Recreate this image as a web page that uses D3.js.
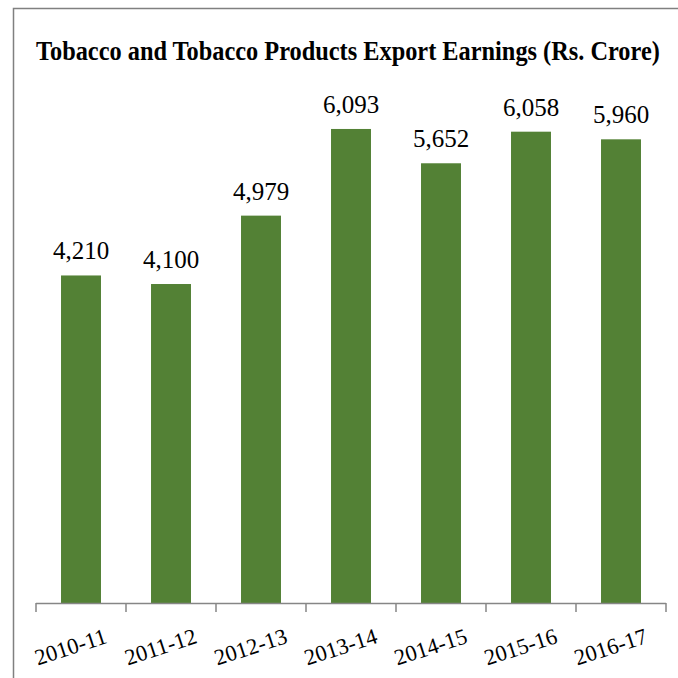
<!DOCTYPE html>
<html><head><meta charset="utf-8">
<script src="https://cdn.jsdelivr.net/npm/d3@7"></script>
<style>html,body{margin:0;padding:0;background:#fff;}svg{display:block;}</style>
</head><body>
<script>
const title = "Tobacco and Tobacco Products Export Earnings (Rs. Crore)";
const categories = ["2010-11","2011-12","2012-13","2013-14","2014-15","2015-16","2016-17"];
const values = [4210, 4100, 4979, 6093, 5652, 6058, 5960];

const W = 678, H = 678;
const font = "'Liberation Serif', 'DejaVu Serif', serif";
const svg = d3.select("body").append("svg").attr("width", W).attr("height", H);

// frame
svg.append("path").attr("d", `M13.5,${H+2} L13.5,8.5 L${W+2},8.5`)
  .attr("fill","none").attr("stroke","#808080").attr("stroke-width",1.5);

// title: fit to width, then stretch vertically to match cap height
const tg = svg.append("g");
const t = tg.append("text").attr("x", 0).attr("y", 0)
  .attr("font-family", font).attr("font-weight","bold").attr("font-size", 24)
  .attr("fill","#000").text(title);
const tw = t.node().getComputedTextLength();
const fs = 24 * 624 / tw;
t.attr("font-size", fs);
const sy = 26.5 / fs;
tg.attr("transform", `translate(36,60) scale(1,${sy})`);

const x = d3.scaleBand().domain(categories).range([36, 666]).paddingInner(0.556).paddingOuter(0.278);
const y = d3.scaleLinear().domain([0, 7000]).range([603, 603 - 7000*0.0778]);

svg.append("g").selectAll("rect").data(values).join("rect")
  .attr("x", (d,i) => x(categories[i]))
  .attr("width", x.bandwidth())
  .attr("y", d => y(d))
  .attr("height", d => y(0) - y(d))
  .attr("fill", "#538135");

svg.append("g").selectAll("text").data(values).join("text")
  .attr("x", (d,i) => x(categories[i]) + x.bandwidth()/2)
  .attr("y", d => y(d) - 16)
  .attr("text-anchor","middle")
  .attr("font-family", font).attr("font-size", 25).attr("fill","#000")
  .text(d => d3.format(",")(d));

// axis
const step = x.step();
const tickPos = d3.range(categories.length + 1).map(i => 36 + i*step);
const ax = svg.append("g");
ax.append("line").attr("x1",36).attr("x2",666).attr("y1",603.5).attr("y2",603.5)
  .attr("stroke","#868686").attr("stroke-width",1.5);
ax.selectAll("line.tick").data(tickPos).join("line").attr("class","tick")
  .attr("x1",d=>d).attr("x2",d=>d).attr("y1",603).attr("y2",612)
  .attr("stroke","#868686").attr("stroke-width",1.5);

svg.append("g").selectAll("text").data(categories).join("text")
  .attr("transform", d => `translate(${x(d) + x.bandwidth()/2 - 8},${654}) rotate(-18)`)
  .attr("text-anchor","middle")
  .attr("font-family", font).attr("font-size", 22.5).attr("fill","#000")
  .text(d => d);
</script>
</body></html>
